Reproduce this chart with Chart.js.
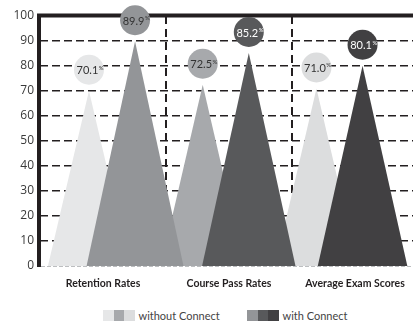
<!DOCTYPE html>
<html>
<head>
<meta charset="utf-8">
<script src="https://cdn.jsdelivr.net/npm/chart.js@4"></script>
<style>
    body { margin: 0; overflow: hidden; background: #fff; width: 413px; height: 324px; position: relative; }
    #contenedor { position: absolute; left: 0; top: 0; width: 420px; height: 296px; }
    #leyenda { position: absolute; top: 307px; left: 103px; font-family: Lato, sans-serif; font-size: 11px; color: #444; }
    .grupo { position: absolute; top: 0; white-space: nowrap; }
    .caja { display: inline-block; width: 10.5px; height: 11px; vertical-align: middle; }
    .texto { vertical-align: middle; margin-left: 4px; }
</style>
</head>
<body>
<div id="contenedor"><canvas id="grafica"></canvas></div>
<div id="leyenda"></div>
<script>
const categorias = ['Retention Rates', 'Course Pass Rates', 'Average Exam Scores'];
const sinConnect = [70.1, 72.5, 71.0];
const conConnect = [89.9, 85.2, 80.1];
const coloresSin = ['#e6e7e8', '#a7a9ac', '#dcddde'];
const coloresCon = ['#939598', '#58595b', '#414042'];
const textoSin = ['#333333', '#333333', '#333333'];
const textoCon = ['#333333', '#ffffff', '#ffffff'];

// leyenda en html, tres cajitas por serie
const leyenda = document.getElementById('leyenda');
const series = [
    { nombre: 'without Connect', colores: coloresSin, left: 0 },
    { nombre: 'with Connect', colores: coloresCon, left: 144 }
];
series.forEach(s => {
    const g = document.createElement('div');
    g.className = 'grupo';
    g.style.left = s.left + 'px';
    g.innerHTML = s.colores.map(c => `<span class="caja" style="background:${c}"></span>`).join('') +
        `<span class="texto">${s.nombre}</span>`;
    leyenda.appendChild(g);
});

const triangulos = {
    id: 'triangulos',
    afterDatasetsDraw(chart) {
        const ctx = chart.ctx;
        const base = chart.scales.y.getPixelForValue(0);
        const area = chart.chartArea;
        const colores = [coloresSin, coloresCon];
        const textos = [textoSin, textoCon];
        ctx.save();
        // eje izquierdo y borde de arriba, gruesos
        ctx.strokeStyle = '#231f20';
        ctx.lineWidth = 4;
        ctx.beginPath();
        ctx.moveTo(area.left - 1, base + 1);
        ctx.lineTo(area.left - 1, area.top - 0.5);
        ctx.lineTo(chart.width, area.top - 0.5);
        ctx.stroke();
        [0, 1].forEach(d => {
            chart.getDatasetMeta(d).data.forEach((bar, i) => {
                const h = base - bar.y;
                const mitad = 14.75 + 0.15 * h;
                ctx.fillStyle = colores[d][i];
                ctx.beginPath();
                ctx.moveTo(bar.x - mitad, base);
                ctx.lineTo(bar.x, bar.y);
                ctx.lineTo(bar.x + mitad, base);
                ctx.closePath();
                ctx.fill();
            });
        });
        [0, 1].forEach(d => {
            const valores = chart.data.datasets[d].data;
            chart.getDatasetMeta(d).data.forEach((bar, i) => {
                const cy = bar.y - 21;
                ctx.fillStyle = colores[d][i];
                ctx.beginPath();
                ctx.arc(bar.x, cy, 15, 0, Math.PI * 2);
                ctx.fill();
                const txt = valores[i].y.toFixed(1);
                ctx.font = '11px Lato';
                const w = ctx.measureText(txt).width;
                ctx.fillStyle = textos[d][i];
                ctx.textAlign = 'center';
                ctx.textBaseline = 'middle';
                ctx.fillText(txt, bar.x - 1.5, cy + 1);
                ctx.font = '6px Lato';
                ctx.textAlign = 'left';
                ctx.fillText('%', bar.x - 1.5 + w / 2 + 0.5, cy - 2);
            });
        });
        // linea del cero
        ctx.strokeStyle = '#bcbec0';
        ctx.lineWidth = 1;
        ctx.setLineDash([4, 2]);
        ctx.beginPath();
        ctx.moveTo(area.left + 1, base + 0.5);
        ctx.lineTo(area.right, base + 0.5);
        ctx.stroke();
        ctx.restore();
    }
};

new Chart(document.getElementById('grafica'), {
    type: 'bar',
    data: {
        datasets: [
            { label: 'without Connect', data: sinConnect.map((v, i) => ({ x: i, y: v })), backgroundColor: 'rgba(0,0,0,0)', xAxisID: 'x' },
            { label: 'with Connect', data: conConnect.map((v, i) => ({ x: i, y: v })), backgroundColor: 'rgba(0,0,0,0)', xAxisID: 'x' }
        ]
    },
    options: {
        responsive: true,
        maintainAspectRatio: false,
        animation: false,
        categoryPercentage: 0.81,
        barPercentage: 0.9,
        layout: { padding: { top: 16, right: 2, left: 0, bottom: 0 } },
        plugins: { legend: { display: false }, tooltip: { enabled: false } },
        scales: {
            x: {
                type: 'linear',
                display: false,
                offset: false,
                min: -0.633,
                max: 2.69,
                ticks: { stepSize: 1, includeBounds: false }
            },
            x2: {
                type: 'category',
                labels: categorias,
                position: 'bottom',
                offset: true,
                afterFit: s => { s.height = 30; },
                border: { display: false, dash: [8, 5] },
                grid: {
                    offset: true,
                    drawTicks: false,
                    color: '#231f20',
                    lineWidth: 2
                },
                ticks: {
                    padding: 11,
                    color: '#231f20',
                    font: { family: 'Lato', size: 10.5, weight: 'bold' }
                }
            },
            y: {
                min: 0,
                max: 100,
                afterFit: s => { s.width = 40; },
                border: { display: false, dash: [8, 4] },
                grid: {
                    drawTicks: false,
                    lineWidth: 1.6,
                    color: c => (c.tick && (c.tick.value === 0 || c.tick.value === 100)) ? 'rgba(0,0,0,0)' : '#231f20'
                },
                ticks: {
                    stepSize: 10,
                    padding: 6,
                    color: '#3a3a3a',
                    font: { family: 'Open Sans', size: 12 }
                }
            }
        }
    },
    plugins: [triangulos]
});
</script>
</body>
</html>
